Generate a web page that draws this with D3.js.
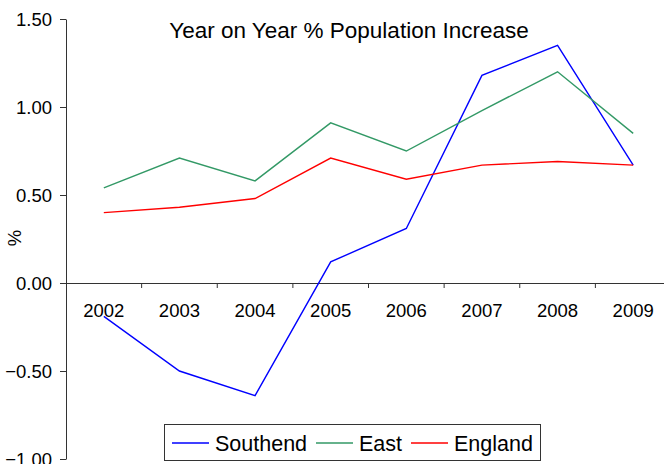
<!DOCTYPE html>
<html>
<head>
<meta charset="utf-8">
<script src="https://cdn.jsdelivr.net/npm/d3@7"></script>
<style>
  html, body { margin: 0; padding: 0; background: #fff; }
  svg { display: block; font-family: "Liberation Sans", Arial, sans-serif; }
</style>
</head>
<body>
<svg id="chart" width="664" height="464"></svg>
<script>
const years = ["2002", "2003", "2004", "2005", "2006", "2007", "2008", "2009"];
const southend = [-0.19, -0.50, -0.64, 0.12, 0.31, 1.18, 1.35, 0.67];
const east = [0.54, 0.71, 0.58, 0.91, 0.75, 0.98, 1.20, 0.85];
const england = [0.40, 0.43, 0.48, 0.71, 0.59, 0.67, 0.69, 0.67];
const yTicks = [-1.0, -0.5, 0.0, 0.5, 1.0, 1.5];
const seriesNames = ["Southend", "East", "England"];
const seriesColors = ["#0000ff", "#339966", "#ff0000"];
const title = "Year on Year % Population Increase";
const yLabel = "%";

const svg = d3.select("#chart");
const x = d3.scaleBand().domain(years).range([66, 671]).padding(0);
const y = d3.scaleLinear().domain([-1, 1.5]).range([459, 19]);
const axisColor = "#333";

// Y axis
const yAxis = svg.append("g").attr("transform", "translate(66,0)")
  .call(d3.axisLeft(y).tickValues(yTicks).tickFormat(d3.format(".2f")).tickSize(6).tickSizeOuter(0));
yAxis.select(".domain").attr("stroke", axisColor);
yAxis.selectAll(".tick line").attr("stroke", axisColor);
yAxis.selectAll(".tick text").attr("font-size", "18.5px").attr("fill", "#000")
  .attr("font-family", "Liberation Sans, Arial, sans-serif").attr("x", -14).attr("dy", "0.35em");

// X axis at zero
const xAxis = svg.append("g").attr("transform", `translate(0,${y(0)})`)
  .call(d3.axisBottom(x).tickSize(0).tickSizeOuter(0));
xAxis.select(".domain").attr("stroke", axisColor);
xAxis.selectAll(".tick text").attr("font-size", "18.5px").attr("fill", "#000")
  .attr("font-family", "Liberation Sans, Arial, sans-serif").attr("y", 21).attr("dy", "0.71em");
// boundary ticks
svg.append("g").selectAll("line").data(years.slice(1)).join("line")
  .attr("x1", d => x(d)).attr("x2", d => x(d))
  .attr("y1", y(0)).attr("y2", y(0) + 5)
  .attr("stroke", axisColor);

// Lines
const line = d3.line().x((d, i) => x(years[i]) + x.bandwidth() / 2).y(d => y(d));
[southend, east, england].forEach((vals, i) => {
  svg.append("path").datum(vals).attr("d", line)
    .attr("fill", "none").attr("stroke", seriesColors[i]).attr("stroke-width", 1.4);
});

// Title
svg.append("text").attr("x", 349).attr("y", 38).attr("text-anchor", "middle")
  .attr("font-size", "22.5px").attr("fill", "#000").text(title);

// Y label
svg.append("text").attr("transform", "translate(21,238) rotate(-90)")
  .attr("text-anchor", "middle").attr("font-size", "18.5px").attr("fill", "#000").text(yLabel);

// Legend
const lg = svg.append("g");
lg.append("rect").attr("x", 164.5).attr("y", 424.5).attr("width", 376).attr("height", 36)
  .attr("fill", "#fff").attr("stroke", axisColor).attr("stroke-width", 1);
const legendX = [172, 316, 411];
seriesNames.forEach((name, i) => {
  lg.append("line").attr("x1", legendX[i]).attr("x2", legendX[i] + 37)
    .attr("y1", 443).attr("y2", 443).attr("stroke", seriesColors[i]).attr("stroke-width", 1.4);
  lg.append("text").attr("x", legendX[i] + 43).attr("y", 450.5)
    .attr("font-size", "21.5px").attr("fill", "#000").text(name);
});
</script>
</body>
</html>
